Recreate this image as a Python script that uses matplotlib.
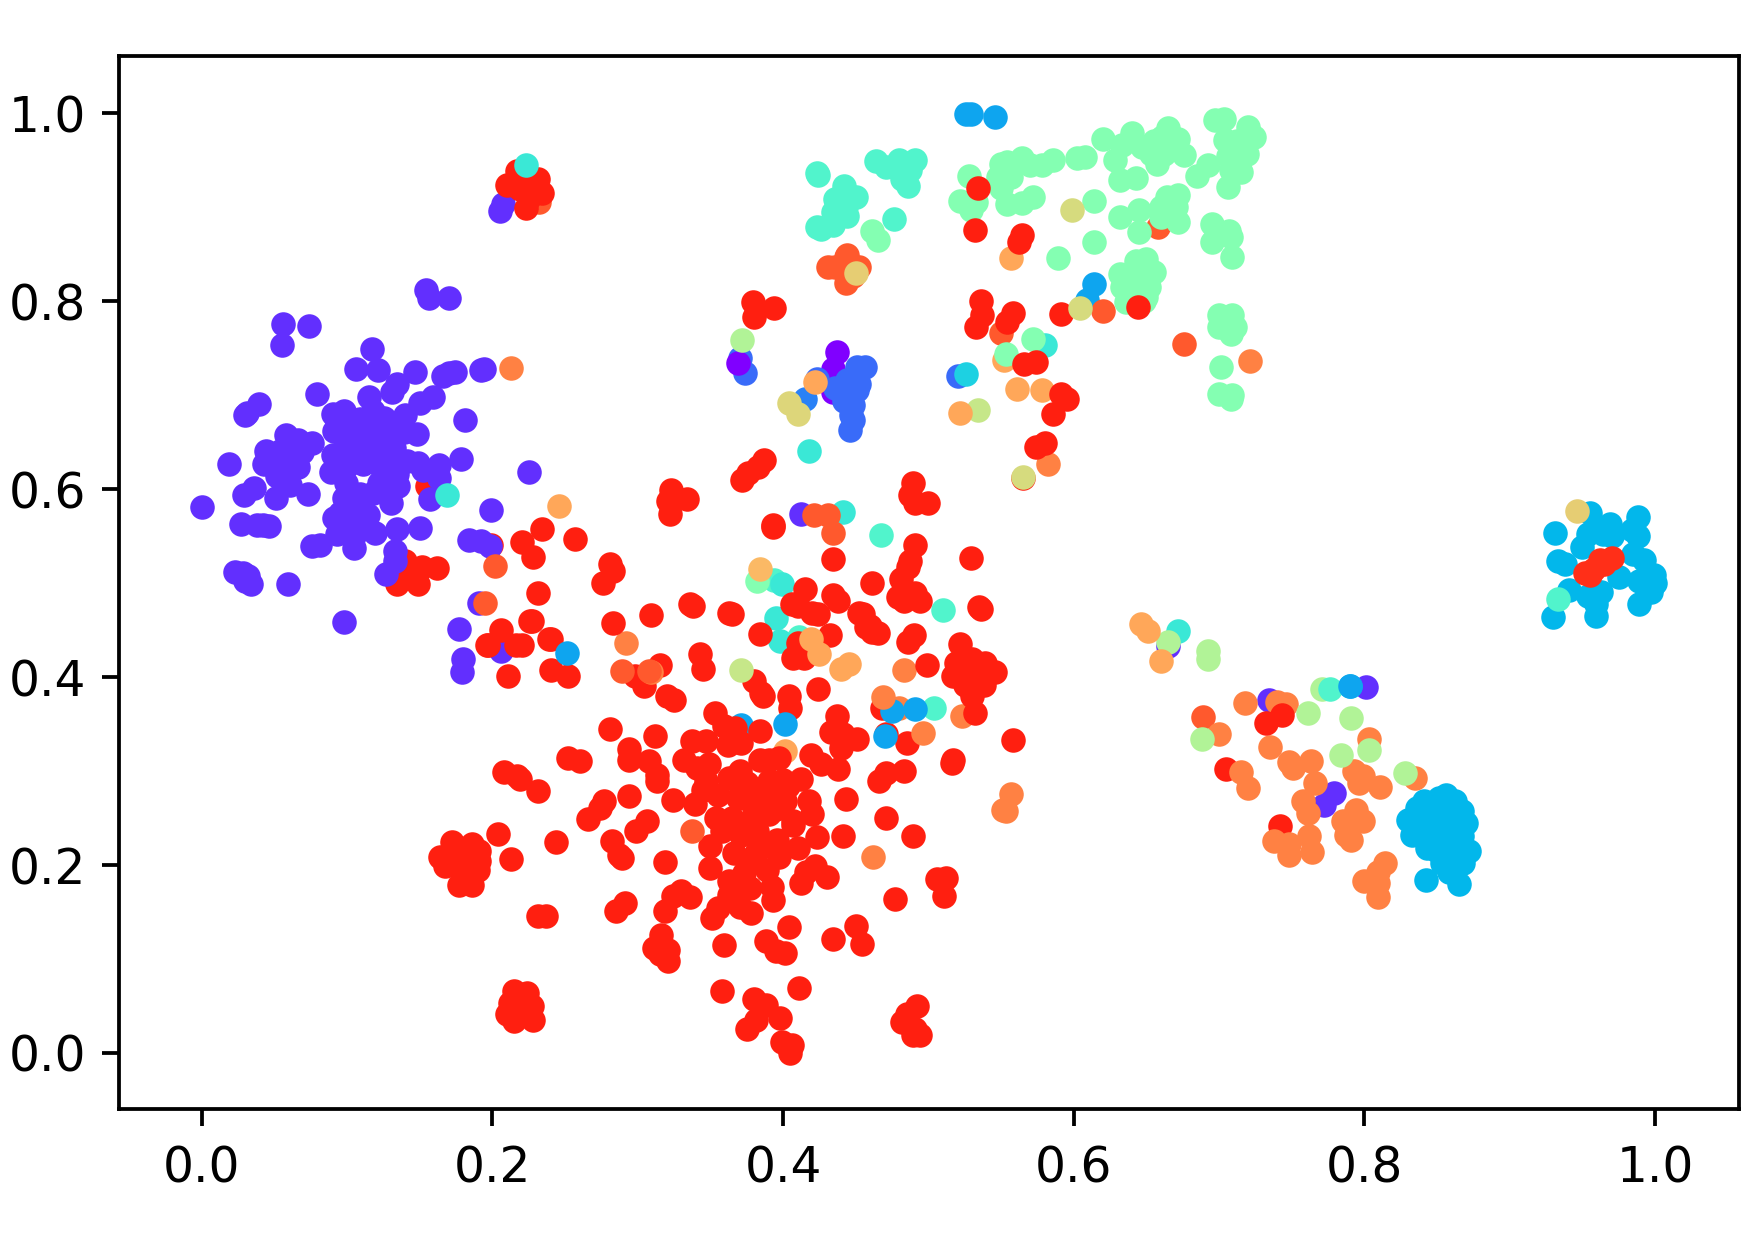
import matplotlib
matplotlib.use("Agg")
import matplotlib.pyplot as plt

# embedded points per class, (x, y)
red_low = [(.155,.603),(.140,.524),(.134,.499),(.149,.499),(.1515,.517),(.162,.516),(.143,.513),(.199,.541),
           (.705,.302),(.742,.241)]
purple = [(.154,.812),(.156,.803),(.170,.803),(.056,.776),(.074,.774),(.055,.753),(.117,.749),(.106,.728),
          (.121,.727),(.147,.725),(.194,.728),(.192,.727),(.174,.725),(.170,.723),(.166,.720),(.134,.712),
          (.131,.703),(.115,.698),(.159,.698),(.150,.692),(.079,.701),(.039,.691),(.031,.681),(.030,.679),
          (.181,.673),(.090,.680),(.098,.683),(.140,.679),(.118,.683),(.109,.675),(.125,.676),(.093,.669),
          (.091,.662),(.098,.655),(.105,.666),(.114,.666),(.123,.659),(.148,.659),(.139,.661),(.058,.658),
          (.066,.652),(.076,.649),(.044,.640),(.054,.640),(.069,.639),(.043,.627),(.052,.630),(.066,.623),
          (.059,.634),(.090,.636),(.105,.645),(.114,.648),(.123,.641),(.132,.644),(.102,.637),(.111,.627),
          (.123,.623),(.132,.630),(.141,.630),(.149,.628),(.019,.627),(.089,.618),(.163,.626),(.152,.620),
          (.178,.632),(.134,.616),(.163,.612),(.052,.614),(.061,.604),(.036,.601),(.029,.594),(.051,.590),
          (.073,.595),(.225,.618),(.099,.607),(.122,.607),(.135,.603),(.109,.595),(.098,.591),(.118,.596),
          (.130,.585),(.157,.589),(0.0,.581),(.199,.578),(.091,.569),(.102,.574),(.114,.572),(.098,.559),
          (.027,.563),(.038,.562),(.046,.561),(.042,.562),(.119,.553),(.134,.557),(.150,.559),(.093,.552),
          (.105,.550),(.081,.541),(.076,.539),(.105,.537),(.184,.546),(.192,.545),(.198,.539),(.133,.534),
          (.133,.524),(.127,.510),(.023,.512),(.028,.511),(.032,.508),(.030,.502),(.034,.499),(.059,.499),
          (.098,.459),(.191,.479),(.177,.451),(.180,.419),(.179,.405),(.206,.428),(.207,.903),(.205,.896),
          (.412,.574),(.734,.376),(.801,.389),(.779,.277),(.772,.264),(.665,.433),
          (.100,.650),(.110,.655),(.120,.650),(.115,.635),(.125,.635),(.100,.625),(.110,.640),(.130,.650),
          (.120,.665),(.130,.665),(.105,.580),(.110,.585),(.095,.575),(.105,.565),(.110,.560),(.100,.570)]
violet = [(.437,.746),(.434,.728),(.434,.703)]
blue = [(.370,.740),(.374,.723),(.520,.720),(.456,.730),(.451,.730),(.444,.716),(.452,.712),(.436,.708),
        (.451,.705),(.442,.694),(.448,.689),(.447,.679),(.448,.673),(.446,.663),(.423,.717),
        (.445,.700),(.450,.720),(.443,.700)]
blue_dark = [(.415,.696)]
violet_top = [(.369,.734)]
sky = [(.526,.999),(.529,.9996),(.546,.996),(.614,.818),(.609,.801),(.371,.349)]
cyan = [(.931,.553),(.955,.575),(.969,.563),(.988,.570),(.954,.552),(.964,.552),(.950,.538),(.959,.561),
        (.970,.550),(.988,.550),(.984,.556),(.933,.524),(.938,.520),(.985,.531),(.992,.525),(.999,.509),
        (1.0,.500),(.989,.502),(.975,.506),(.941,.493),(.954,.486),(.963,.490),(.959,.478),(.959,.465),
        (.989,.478),(.997,.490),(.930,.464),
        (.856,.275),(.841,.268),(.851,.271),(.867,.257),(.830,.248),(.836,.261),(.848,.254),(.860,.247),
        (.833,.232),(.846,.236),(.867,.231),(.843,.218),(.855,.222),(.872,.215),(.868,.202),(.853,.202),
        (.858,.193),(.842,.184),(.865,.180),(.862,.268),(.853,.240),(.863,.218),(.790,.391),
        (.840,.250),(.850,.260),(.860,.260),(.845,.245),(.855,.250),(.850,.230),(.860,.235),(.855,.210),
        (.865,.210),(.860,.205),(.845,.225),(.850,.215),(.840,.240),(.835,.245),(.865,.240),(.870,.245)]
aqua = [(.526,.722)]
aquamarine = [(.510,.471),(.467,.551),(.504,.367),(.394,.503),(.411,.443),(.933,.483),
              (.423,.936),(.424,.934),(.464,.949),(.471,.943),(.480,.950),(.491,.950),(.487,.939),(.482,.930),
              (.486,.922),(.442,.922),(.450,.911),(.436,.909),(.443,.900),(.434,.895),(.444,.891),(.423,.879),
              (.426,.877),(.434,.881),(.476,.887),(.440,.910),(.445,.910),(.440,.895),(.435,.890)]
turquoise = [(.169,.594),(.395,.463),(.398,.438),(.399,.499),(.441,.576),(.418,.641),(.580,.753),(.672,.449)]
orange_dark = [(.202,.518),(.658,.879),(.676,.754),(.550,.766),(.620,.790),(.443,.847),(.436,.836),
               (.431,.836),(.444,.849),(.452,.836),(.443,.819),(.448,.827),(.689,.357),(.195,.479),(.232,.905)]
orange = [(.213,.729),(.292,.436),(.483,.407),(.480,.367),(.523,.359),(.557,.276),(.553,.257),(.551,.259),
          (.721,.736),(.582,.627),
          (.718,.372),(.740,.373),(.746,.371),(.700,.339),(.735,.326),(.748,.310),(.763,.311),(.751,.303),
          (.766,.287),(.793,.300),(.799,.295),(.796,.287),(.811,.283),(.803,.334),(.835,.293),(.715,.299),
          (.720,.282),(.758,.268),(.761,.255),(.794,.259),(.785,.247),(.799,.247),(.787,.232),(.791,.227),
          (.738,.226),(.748,.222),(.762,.231),(.764,.214),(.748,.211),(.814,.202),(.809,.193),(.800,.183),
          (.809,.181),(.809,.166)]
orange_pale_low = [(.557,.846),(.552,.737),(.401,.321),(.561,.706),(.578,.705)]
mint = [(.382,.502),(.461,.875),(.465,.865),(.528,.933),(.522,.906),(.533,.905),(.529,.897),(.550,.946),
        (.554,.948),(.564,.952),(.570,.945),(.578,.945),(.586,.950),(.602,.952),(.608,.953),(.548,.932),
        (.557,.932),(.550,.920),(.554,.903),(.564,.904),(.572,.911),(.620,.972),(.640,.979),(.633,.966),
        (.628,.950),(.647,.964),(.653,.957),(.665,.984),(.661,.975),(.672,.973),(.662,.957),(.676,.955),
        (.657,.946),(.632,.929),(.643,.931),(.703,.994),(.697,.993),(.720,.985),(.724,.975),(.704,.971),
        (.719,.957),(.706,.954),(.715,.937),(.692,.945),(.685,.933),(.706,.921),(.614,.907),(.632,.890),
        (.645,.897),(.645,.874),(.672,.913),(.664,.911),(.670,.900),(.660,.900),(.672,.884),(.614,.863),
        (.589,.846),(.695,.882),(.707,.875),(.695,.863),(.708,.868),(.709,.847),(.643,.843),(.650,.845),
        (.632,.829),(.655,.831),(.641,.822),(.633,.815),(.652,.815),(.636,.799),(.650,.804),(.700,.785),
        (.709,.785),(.700,.772),(.711,.772),(.708,.765),(.701,.730),(.700,.701),(.708,.696),(.709,.700),
        (.553,.744),(.572,.760),(.645,.830),(.650,.825),(.645,.810),(.650,.835),(.640,.820),(.648,.800),
        (.660,.965),(.655,.970),(.665,.965),(.712,.960),(.712,.970),(.708,.940),(.716,.965),(.660,.890)]
red = [(.227,.460),(.283,.457),(.309,.466),(.338,.476),(.365,.467),(.410,.476),(.424,.467),(.438,.481),
       (.455,.467),(.460,.454),(.465,.447),(.483,.481),(.494,.481),(.536,.472),(.384,.446),(.432,.445),
       (.410,.436),(.407,.420),(.414,.420),(.490,.445),(.486,.437),(.522,.435),
       (.499,.413),(.519,.415),(.530,.419),(.539,.415),(.517,.401),(.528,.405),(.538,.392),(.546,.405),
       (.525,.392),(.530,.380),(.532,.362),(.343,.425),(.345,.409),(.315,.413),(.298,.401),(.304,.390),
       (.320,.380),(.325,.376),(.380,.396),(.385,.383),(.386,.380),(.404,.380),(.405,.367),(.424,.387),
       (.206,.450),(.197,.434),(.216,.434),(.220,.434),(.240,.440),(.211,.401),(.240,.407),(.252,.401),
       (.353,.362),(.359,.348),(.367,.346),(.384,.343),(.362,.328),(.371,.330),(.437,.359),(.433,.342),
       (.440,.325),(.451,.334),(.441,.339),(.485,.330),(.471,.339),(.468,.367),(.558,.333),(.517,.312),
       (.516,.309),(.281,.345),(.312,.337),(.294,.323),(.294,.312),(.252,.314),(.260,.311),(.308,.311),
       (.313,.289),(.313,.296),(.208,.299),(.217,.295),(.219,.291),(.231,.279),(.337,.332),(.347,.332),
       (.332,.312),(.341,.303),(.349,.307),(.384,.312),(.397,.314),(.390,.312),(.419,.317),(.426,.307),
       (.438,.302),(.483,.300),(.471,.298),(.466,.289),(.294,.273),(.277,.268),(.274,.261),(.266,.249),
       (.324,.269),(.339,.265),(.347,.289),(.363,.293),(.375,.287),(.390,.289),(.412,.292),(.403,.284),
       (.355,.275),(.369,.271),(.385,.271),(.401,.268),(.418,.268),(.443,.270),(.354,.250),(.365,.250),
       (.380,.254),(.390,.254),(.407,.247),(.420,.254),(.471,.250),(.306,.247),(.299,.236),(.489,.231),
       (.282,.226),(.244,.224),(.204,.233),(.213,.206),(.172,.225),(.186,.222),(.164,.209),(.180,.215),
       (.191,.215),(.167,.199),(.191,.204),(.177,.179),(.186,.179),(.178,.197),(.289,.207),(.287,.211),
       (.319,.203),(.350,.220),(.366,.213),(.358,.236),(.371,.232),(.382,.236),(.382,.215),(.397,.209),
       (.410,.218),(.396,.227),(.423,.230),(.441,.231),(.407,.243),(.350,.197),(.389,.195),(.373,.192),
       (.363,.183),(.377,.176),(.363,.168),(.392,.177),(.393,.163),(.371,.172),(.422,.199),(.412,.181),
       (.430,.187),(.416,.193),(.506,.185),(.512,.186),(.511,.167),(.477,.164),(.330,.172),(.336,.166),
       (.324,.167),(.319,.151),(.291,.160),(.285,.151),(.231,.146),(.237,.146),(.355,.154),(.351,.144),
       (.378,.149),(.404,.134),(.450,.135),(.454,.116),(.434,.121),(.388,.119),(.395,.109),(.401,.106),
       (.359,.115),(.316,.126),(.311,.112),(.321,.110),(.321,.098),(.315,.105),(.358,.066),(.411,.069),
       (.380,.057),(.388,.051),(.398,.037),(.381,.035),(.375,.025),(.399,.012),(.406,.009),(.405,.000),
       (.492,.050),(.485,.041),(.482,.033),(.491,.026),(.494,.019),(.489,.019),(.215,.066),(.224,.064),
       (.212,.053),(.227,.050),(.210,.042),(.228,.035),(.215,.034),(.220,.048),(.234,.557),(.220,.544),
       (.228,.528),(.257,.547),(.281,.520),(.276,.500),(.231,.489),(.226,.460),(.196,.434),(.239,.440),
       (.534,.920),(.532,.876),(.564,.870),(.562,.863),(.536,.800),(.537,.785),(.533,.772),(.558,.787),
       (.554,.778),(.591,.786),(.644,.794),(.379,.799),(.394,.793),(.380,.783),(.566,.733),(.574,.735),
       (.591,.701),(.595,.696),(.586,.680),(.574,.645),(.580,.649),(.387,.631),(.383,.624),(.376,.617),
       (.372,.610),(.489,.606),(.487,.594),(.491,.585),(.500,.585),
       (.393,.562),(.393,.560),(.323,.599),(.334,.589),(.322,.574),(.321,.587),
       (.283,.513),(.434,.526),(.491,.540),(.487,.523),(.486,.517),(.481,.504),(.479,.485),(.491,.489),
       (.461,.500),(.434,.487),(.529,.527),(.535,.474),(.415,.494),(.406,.478),(.420,.468),(.336,.478),
       (.363,.468),(.452,.468),(.457,.453),(.461,.448),
       (.217,.938),(.210,.924),(.223,.899),(.234,.915),(.231,.930),(.219,.919),(.225,.910),
       (.565,.612),(.732,.351),(.743,.360),
       (.375,.270),(.390,.280),(.395,.260),(.380,.245),(.370,.240),(.385,.225),(.345,.280),(.370,.300),
       (.400,.290),(.375,.205),(.370,.155),
       (.180,.205),(.185,.210),(.175,.210),(.190,.195),
       (.530,.410),(.535,.400),(.525,.410),(.535,.410),(.520,.405)]
red_bright = [(.952,.511),(.958,.515),(.962,.525),(.970,.527),(.965,.520),(.955,.509)]
green_pale = [(.372,.759),(.665,.437),(.692,.428),(.692,.419),(.771,.387),(.761,.362),(.791,.356),
              (.803,.322),(.784,.317),(.828,.298),(.688,.334)]
aquamarine_top = [(.776,.387)]
turquoise_top = [(.223,.945)]
sky_top = [(.251,.426),(.475,.364),(.491,.366),(.470,.337),(.401,.350),(.790,.391)]
lime = [(.534,.684),(.371,.407)]
khaki = [(.599,.897),(.604,.793),(.565,.613)]
straw = [(.404,.692),(.410,.680)]
sand = [(.450,.830),(.946,.577)]
orange_pale = [(.246,.582),(.419,.441),(.425,.425),(.440,.409),(.445,.414),(.522,.681),(.422,.714),
               (.646,.456),(.651,.449),(.660,.417)]
orange_light = [(.384,.515)]
orange_top = [(.309,.405),(.496,.340),(.462,.208),(.469,.379)]
orange_dark_top = [(.337,.236),(.289,.406),(.308,.406),(.421,.572),(.431,.572),(.434,.553)]

# drawing order, later layers sit on top
layers = [(red_low, .96), (purple, .06), (violet, 0.0), (blue, .14), (blue_dark, .17), (violet_top, 0.0),
          (sky, .225), (cyan, .255), (aqua, .305), (aquamarine, .41), (turquoise, .365),
          (orange_dark, .885), (orange, .83), (orange_pale_low, .77), (mint, .51), (red, .96),
          (red_bright, .94), (green_pale, .595), (aquamarine_top, .41), (turquoise_top, .365),
          (sky_top, .225), (lime, .64), (khaki, .67), (straw, .68), (sand, .70), (orange_pale, .77),
          (orange_light, .74), (orange_top, .83), (orange_dark_top, .885)]

fig = plt.figure(figsize=(1754 / 340, 1241 / 340), dpi=340)
ax = fig.add_axes([119 / 1754, 1 - 1109 / 1241, 1620 / 1754, 1053 / 1241])
for points, value in layers:
    xs, ys = zip(*points)
    ax.scatter(xs, ys, s=27, color=plt.cm.rainbow(value), linewidths=0)

ax.set_xlim(-.057, 1.0577)
ax.set_ylim(-.0596, 1.0608)
ax.set_xticks([0, .2, .4, .6, .8, 1.0])
ax.set_yticks([0, .2, .4, .6, .8, 1.0])
ax.tick_params(axis="x", labelsize=10.3, pad=4)
ax.tick_params(axis="y", labelsize=10.3)

plt.savefig("out.png", dpi=340)
